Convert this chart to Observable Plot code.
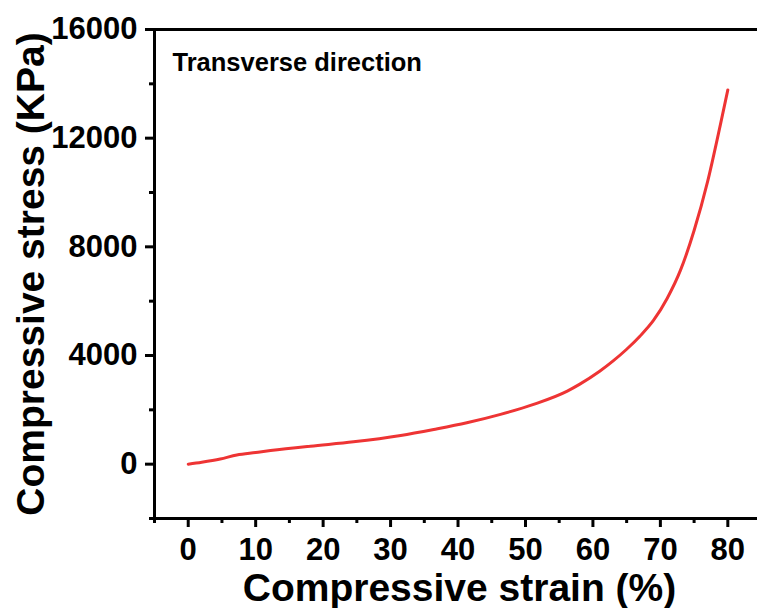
<!DOCTYPE html>
<html>
<head>
<meta charset="utf-8">
<script src="https://cdn.jsdelivr.net/npm/d3@7"></script>
<script src="https://cdn.jsdelivr.net/npm/@observablehq/plot@0.6"></script>
<style>
  html, body { margin: 0; padding: 0; background: #fff; }
  #chart svg { display: block; }
</style>
</head>
<body>
<div id="chart"></div>
<script>
const strain = [0, 2, 4.75, 7.2, 10, 12.2, 18.1, 24.5, 31.5, 36.4, 41.3, 46.3, 51.2, 56.2, 58, 61, 63, 65, 67, 69, 71, 73, 75, 77, 78.9, 80];
const stress = [0, 70, 190, 340, 430, 500, 663, 822, 1058, 1279, 1523, 1832, 2201, 2691, 2938, 3420, 3800, 4230, 4720, 5300, 6100, 7150, 8600, 10400, 12500, 13776];
const xMajorTicks = [0, 10, 20, 30, 40, 50, 60, 70, 80];
const xMinorTicks = [-5, 5, 15, 25, 35, 45, 55, 65, 75];
const yMajorTicks = [0, 4000, 8000, 12000, 16000];
const yMinorTicks = [-2000, 2000, 6000, 10000, 14000];
const xTitle = "Compressive strain (%)";
const yTitle = "Compressive stress (KPa)";
const annotation = "Transverse direction";

const data = strain.map((s, i) => ({strain: s, stress: stress[i]}));

const chart = Plot.plot({
  width: 757,
  height: 608,
  marginLeft: 154,
  marginRight: 0,
  marginTop: 29,
  marginBottom: 90,
  style: {fontFamily: "'Liberation Sans', Arial, sans-serif", fontWeight: "bold", fontSize: "31px", color: "#000", background: "#fff"},
  x: {domain: [-5, 84.4]},
  y: {domain: [-2000, 16000]},
  marks: [
    Plot.axisX(xMinorTicks, {tickSize: 5, strokeWidth: 3, text: null, label: null}),
    Plot.axisX(xMajorTicks, {tickSize: 9, tickPadding: 10, strokeWidth: 3, fontSize: 31, label: null, tickFormat: d => String(d)}),
    Plot.axisY(yMinorTicks, {tickSize: 5, strokeWidth: 3, text: null, label: null}),
    Plot.axisY(yMajorTicks, {tickSize: 9, tickPadding: 8, strokeWidth: 3, fontSize: 31, label: null, tickFormat: d => String(d)}),
    Plot.ruleY([-2000], {stroke: "#000", strokeWidth: 3}),
    Plot.ruleY([16000], {stroke: "#000", strokeWidth: 3}),
    Plot.ruleX([-5], {stroke: "#000", strokeWidth: 3}),
    Plot.line(data, {x: "strain", y: "stress", stroke: "#ee3434", strokeWidth: 3, curve: "monotone-x"}),
    Plot.text([annotation], {frameAnchor: "top-left", dx: 18, dy: 41, lineAnchor: "bottom", textAnchor: "start", fontSize: 25.5, fontWeight: "bold", fill: "#000"}),
    Plot.text([xTitle], {frameAnchor: "bottom", dx: 3.5, dy: 82, lineAnchor: "bottom", textAnchor: "middle", fontSize: 39, fontWeight: "bold", fill: "#000"}),
    Plot.text([yTitle], {frameAnchor: "left", dx: -111, rotate: -90, lineAnchor: "bottom", textAnchor: "middle", fontSize: 39, fontWeight: "bold", fill: "#000"})
  ]
});
d3.select(chart).selectAll('g[aria-label="x-axis tick"], g[aria-label="y-axis tick"]').attr("stroke-width", 3).attr("stroke", "#000");
document.getElementById("chart").appendChild(chart);
</script>
</body>
</html>
